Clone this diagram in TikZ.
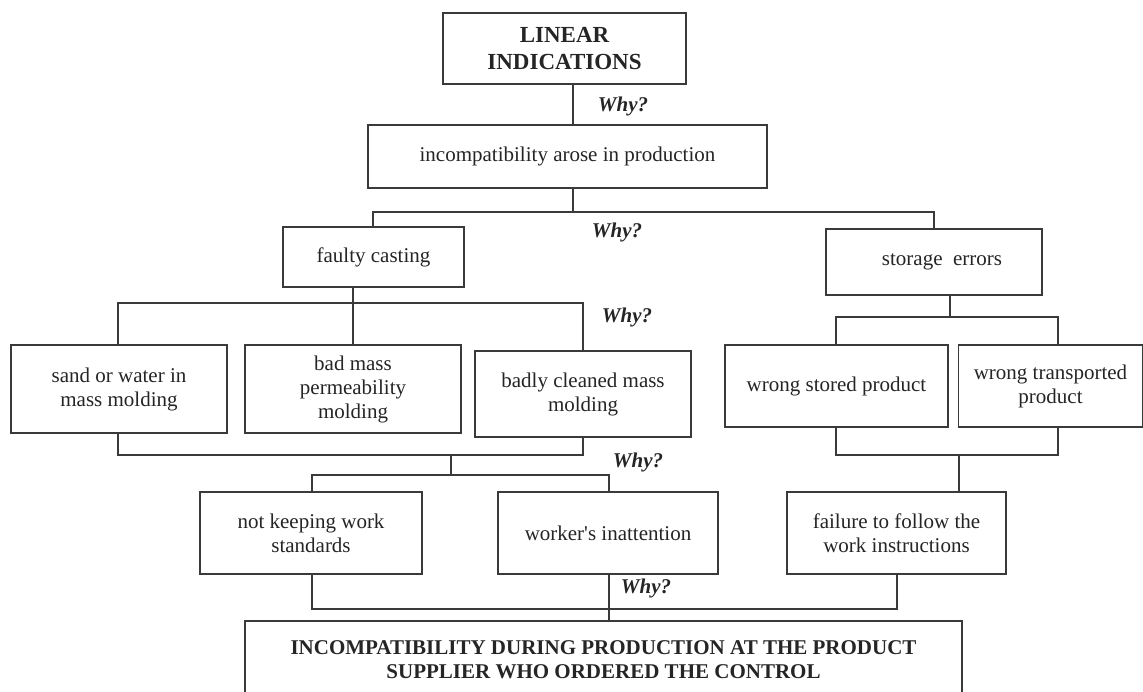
\documentclass[tikz,border=0pt]{standalone}
\usepackage{fontspec}
\setmainfont{Liberation Serif}
\definecolor{ink}{HTML}{252525}
\definecolor{edge}{HTML}{3A3A3A}
\begin{document}
\begin{tikzpicture}[x=1pt,y=-1pt,
  box/.style={draw=edge,line width=1.3pt,align=center,inner sep=0pt,text=ink,
    font=\fontsize{21}{24}\selectfont},
  conn/.style={draw=edge,line width=1.6pt},
  why/.style={text=ink,inner sep=0pt,font=\fontsize{21}{24}\selectfont\bfseries\itshape}]
\useasboundingbox[fill=white] (0,0) rectangle (1143,691);

% nodes
\node[box,minimum width=243,minimum height=71,font=\fontsize{23}{27}\selectfont\bfseries] (top) at (564.5,48.5) {LINEAR\\INDICATIONS};
\node[box,minimum width=399,minimum height=63] (arose) at (567.5,156.5) {incompatibility arose in production};
\node[box,minimum width=181,minimum height=60] (faulty) at (373.5,257) {faulty casting};
\node[box,minimum width=216,minimum height=66] (storage) at (934,262) {\hspace*{16pt}storage\ \ errors};
\node[box,minimum width=216,minimum height=88] (sand) at (119,389) {sand or water in\\mass molding};
\node[box,minimum width=216,minimum height=88] (badmass) at (353,389) {bad mass\\permeability\\molding};
\node[box,minimum width=216,minimum height=86] (badly) at (583,394) {badly cleaned mass\\molding};
\node[box,minimum width=223,minimum height=82] (wstored) at (836.5,386) {wrong stored product};
\node[box,minimum width=184,minimum height=82] (wtrans) at (1050.5,386) {wrong transported\\product};
\node[box,minimum width=222,minimum height=82] (notkeep) at (311,533) {not keeping work\\standards};
\node[box,minimum width=220,minimum height=82] (worker) at (608,533) {worker\textquotesingle s inattention};
\node[box,minimum width=219,minimum height=82] (failure) at (896.5,533) {failure to follow the\\work instructions};
\node[box,minimum width=717,minimum height=78,font=\fontsize{21}{24}\selectfont\bfseries] (final) at (603.5,660) {INCOMPATIBILITY DURING PRODUCTION AT THE PRODUCT\\SUPPLIER WHO ORDERED THE CONTROL};

% why labels
\node[why] (w1) at (623,106) {Why?};
\node[why] (w2) at (617,232) {Why?};
\node[why] (w3) at (627,317) {Why?};
\node[why] (w4) at (638,462) {Why?};
\node[why] (w5) at (646,588) {Why?};

% junction coordinates
\coordinate (j1) at (573,212);
\coordinate (xf) at (373,0);
\coordinate (xs) at (934,0);
\coordinate (j2) at (353,303);
\coordinate (xsand) at (118,0);
\coordinate (xbad) at (583,0);
\coordinate (j3) at (451,455);
\coordinate (j4) at (451,475);
\coordinate (xnk) at (312,0);
\coordinate (xwk) at (609,0);
\coordinate (j5) at (950,317);
\coordinate (xws) at (836,0);
\coordinate (xwt) at (1058,0);
\coordinate (j6) at (959,455);
\coordinate (j7) at (609,609);
\coordinate (xfb) at (897,0);

% connectors
\draw[conn] (top.south -| j1) -- (arose.north -| j1);
\draw[conn] (arose.south -| j1) -- (j1);
\draw[conn] (faulty.north -| xf) |- (j1) -| (storage.north -| xs);

\draw[conn] (faulty.south -| j2) -- (j2);
\draw[conn] (sand.north -| xsand) |- (j2) -| (badly.north -| xbad);
\draw[conn] (j2) -- (badmass.north -| j2);

\draw[conn] (sand.south -| xsand) |- (j3) -| (badly.south -| xbad);
\draw[conn] (j3) -- (j4);
\draw[conn] (notkeep.north -| xnk) |- (j4) -| (worker.north -| xwk);

\draw[conn] (storage.south -| j5) -- (j5);
\draw[conn] (wstored.north -| xws) |- (j5) -| (wtrans.north -| xwt);
\draw[conn] (wstored.south -| xws) |- (j6) -| (wtrans.south -| xwt);
\draw[conn] (j6) -- (failure.north -| j6);

\draw[conn] (notkeep.south -| xnk) |- (j7) -| (failure.south -| xfb);
\draw[conn] (worker.south -| j7) -- (final.north -| j7);
\end{tikzpicture}
\end{document}
